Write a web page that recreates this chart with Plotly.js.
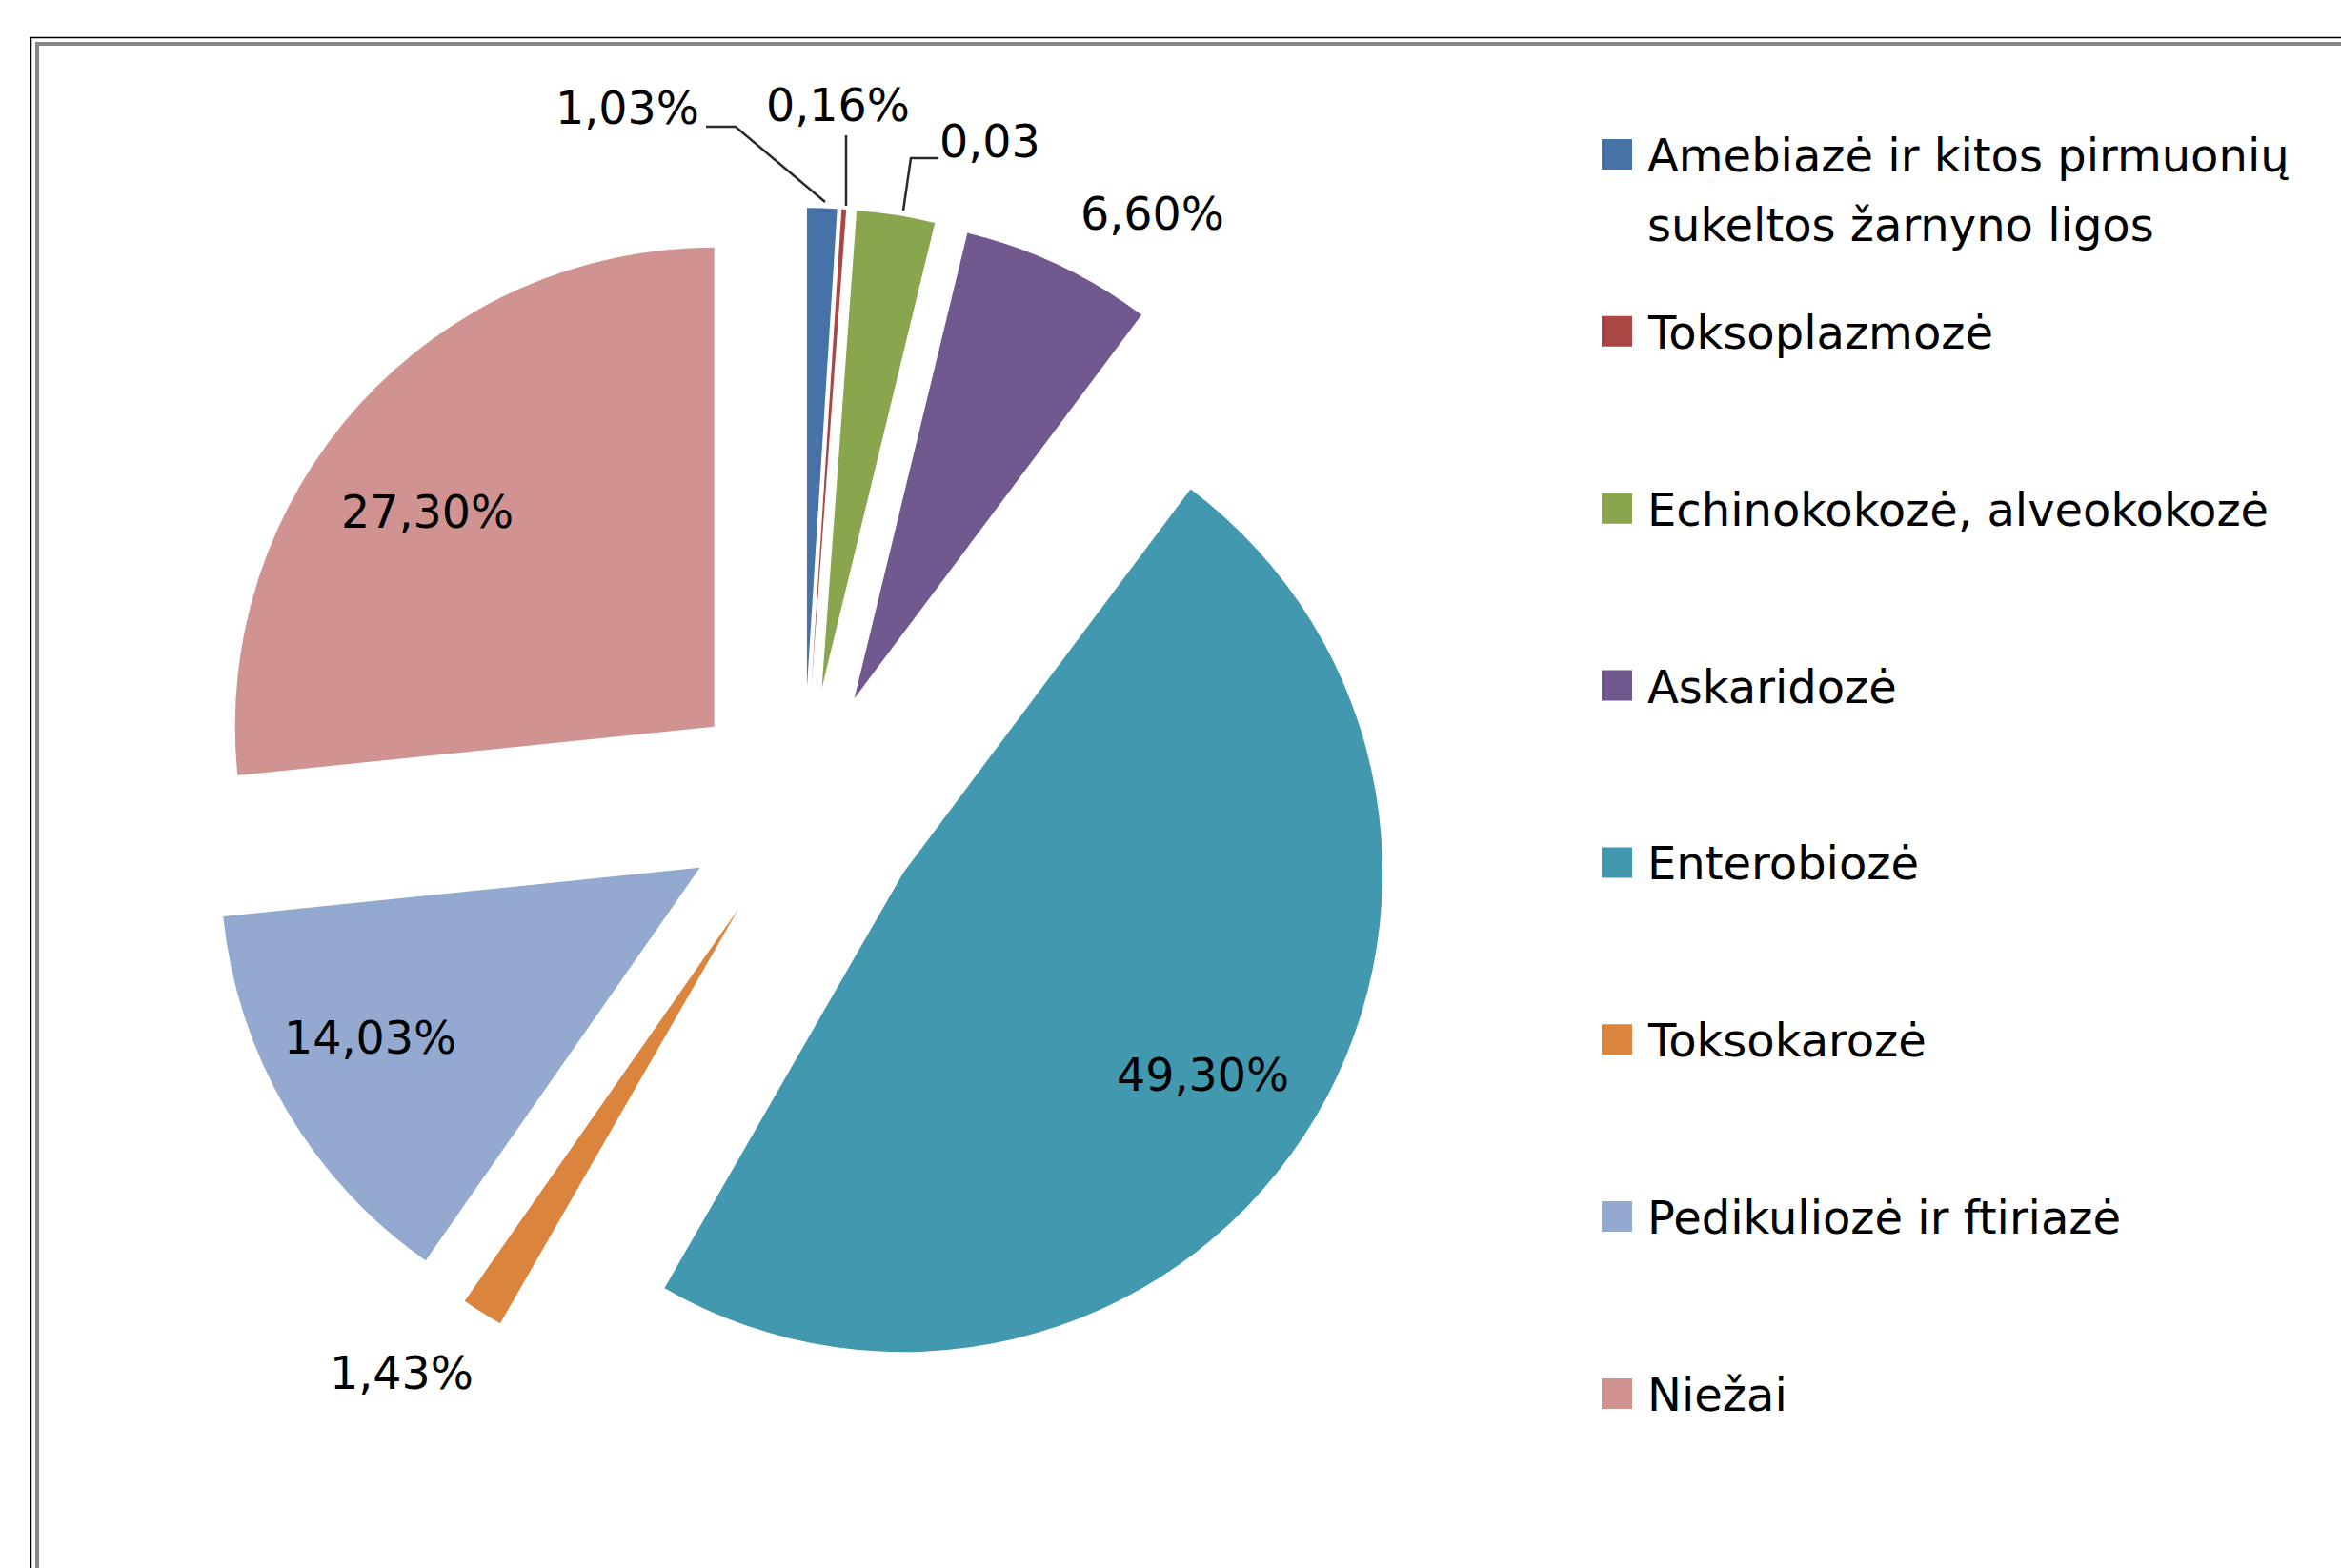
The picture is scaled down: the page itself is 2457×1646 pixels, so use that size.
<!DOCTYPE html>
<html><head><meta charset="utf-8">
<script src="https://cdn.plot.ly/plotly-3.0.1.min.js"></script>
<style>html,body{margin:0;padding:0;background:#fff;overflow:hidden}#chart{width:2457px;height:1646px}</style>
</head><body><div id="chart"></div>
<script>
// ---- data ----
const categories = ["Amebiazė ir kitos pirmuonių sukeltos žarnyno ligos","Toksoplazmozė","Echinokokozė, alveokokozė","Askaridozė","Enterobiozė","Toksokarozė","Pedikuliozė ir ftiriazė","Niežai"];
const values = [1.03, 0.16, 2.7, 6.6, 49.3, 1.43, 14.03, 27.3];
const valueLabels = ["1,03%","0,16%","0,03","6,60%","49,30%","1,43%","14,03%","27,30%"];
const colors = ["#4672A8","#AA4644","#89A54E","#71588F","#4198AF","#DB843D","#93A9CF","#D19392"];

// ---- layout constants (pixels) ----
const W = 2457, H = 1646;
const px = x => x / W, py = y => 1 - y / H;
const CX = 843, CY = 847, R = 503, PULL = 0.25;
const HALF = R * (1 + PULL);
const FONT = "DejaVu Sans";

// label anchors (text centres, px) for each slice label
const labelAnchors = [[658,114],[879,111],[1039,149],[1209,224],[1263,1128],[421,1441],[388,1089],[448,537]];
// leader lines (px) for the small slices
const leaders = [
  [[741,133],[772,133],[866,212]],
  [[888,142],[888,216]],
  [[985,166],[956,166],[948,221]]
];

const trace = {
  type: 'pie',
  labels: categories,
  values: values,
  sort: false,
  direction: 'clockwise',
  rotation: 0,
  pull: values.map(() => PULL),
  marker: {colors: colors, line: {width: 0}},
  textinfo: 'none',
  hoverinfo: 'label+percent',
  showlegend: false,
  domain: {x: [px(CX - HALF), px(CX + HALF)], y: [py(CY + HALF), py(CY - HALF)]}
};

const shapes = [];
const annotations = [];

// chart frame
shapes.push({type:'rect', xref:'paper', yref:'paper', x0:px(32.5), y0:py(39.5), x1:px(2700), y1:py(1900), line:{color:'#000', width:1.5}});
shapes.push({type:'rect', xref:'paper', yref:'paper', x0:px(39), y0:py(46), x1:px(2700), y1:py(1900), line:{color:'#878787', width:4}});

// leader lines
leaders.forEach(pts => {
  const path = pts.map((p, i) => (i ? 'L' : 'M') + px(p[0]) + ',' + py(p[1])).join(' ');
  shapes.push({type:'path', xref:'paper', yref:'paper', path: path, line:{color:'#2a2a2a', width:2.5}});
});

// data labels
valueLabels.forEach((t, i) => {
  annotations.push({xref:'paper', yref:'paper', x:px(labelAnchors[i][0]), y:py(labelAnchors[i][1]),
    xanchor:'center', yanchor:'middle', text:t, showarrow:false,
    font:{family:FONT, size:47.5, color:'#000'}});
});

// legend (drawn with shapes + annotations so that its size matches)
function wrap(s, maxChars) {
  const words = s.split(' '); const lines = []; let cur = '';
  words.forEach(w => {
    if (cur && (cur + ' ' + w).length > maxChars) { lines.push(cur); cur = w; }
    else cur = cur ? cur + ' ' + w : w;
  });
  if (cur) lines.push(cur);
  return lines;
}
const LEG_X = 1681, LEG_SQ = 32, LEG_TX = 1727, LEG_Y0 = 162, LEG_DY = 185.85, LEG_LINE = 73;
categories.forEach((c, i) => {
  const yc = LEG_Y0 + i * LEG_DY;
  shapes.push({type:'rect', xref:'paper', yref:'paper', x0:px(LEG_X), x1:px(LEG_X + LEG_SQ),
    y0:py(yc + LEG_SQ/2), y1:py(yc - LEG_SQ/2), fillcolor:colors[i], line:{width:0}});
  wrap(c, 28).forEach((ln, k) => {
    annotations.push({xref:'paper', yref:'paper', x:px(LEG_TX), y:py(yc + 1 + k * LEG_LINE),
      xanchor:'left', yanchor:'middle', text:ln, showarrow:false,
      font:{family:FONT, size:48, color:'#000'}});
  });
});

const layout = {
  width: W, height: H,
  margin: {l:0, r:0, t:0, b:0, autoexpand:false},
  paper_bgcolor: '#fff',
  showlegend: false,
  shapes: shapes,
  annotations: annotations
};

Plotly.newPlot('chart', [trace], layout, {displayModeBar:false, staticPlot:true});
</script>
</body></html>
